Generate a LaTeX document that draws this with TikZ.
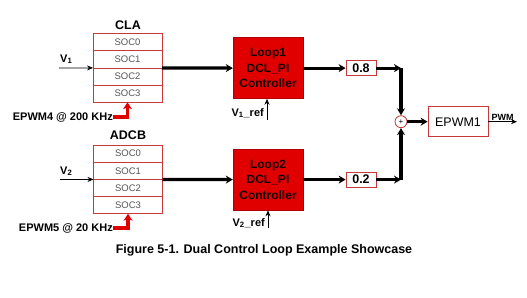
\documentclass[tikz,border=0pt]{standalone}
\usepackage{fontspec}
\setmainfont{Liberation Sans}
\usetikzlibrary{positioning, arrows.meta}
\definecolor{boxred}{HTML}{C8373A}
\definecolor{loopred}{HTML}{E00000}
\definecolor{socgray}{HTML}{555555}

\begin{document}
\begin{tikzpicture}[x=1pt, y=-1pt, >=Stealth,
    soc/.style={draw=boxred, thick, minimum width=69pt, minimum height=17.2pt, inner sep=0pt, outer sep=0pt,
        text=socgray, font=\fontsize{9.5}{10}\selectfont},
    title/.style={font=\bfseries\fontsize{12.5}{14}\selectfont},
    lbl/.style={font=\bfseries\fontsize{11}{12}\selectfont, inner sep=0pt},
    loopbox/.style={draw=red!70!black, fill=loopred, minimum width=70pt, minimum height=61pt, align=center,
        text=black!90!red, font=\bfseries\fontsize{12}{15.5}\selectfont},
    gain/.style={draw=boxred, thick, fill=white, minimum width=30pt, minimum height=15pt, inner sep=0pt,
        font=\bfseries\fontsize{12.5}{13}\selectfont},
    bus/.style={->, line width=3.2pt, >={Stealth[length=7pt, width=8pt]}},
    thin arrow/.style={->, thick, >={Stealth[length=6pt, width=5pt]}},
    trig/.style={->, draw=loopred, line width=3.2pt, >={Stealth[length=7pt, width=9pt]}}]
    \useasboundingbox (0,0) rectangle (527,297);

    % CLA trigger stack
    \node[title] (cla) at (128,25) {CLA};
    \node[soc] (cla0) at (127.5,42.1) {SOC0};
    \node[soc, below=0pt of cla0] (cla1) {SOC1};
    \node[soc, below=0pt of cla1] (cla2) {SOC2};
    \node[soc, below=0pt of cla2] (cla3) {SOC3};
    \coordinate (in1) at (59,68.1);
    \node[lbl, anchor=base west] (v1) at (60,62) {V\textsubscript{1}};
    \node[lbl, anchor=base east] (trig1) at (113,120) {EPWM4 @ 200 KHz};

    % ADCB trigger stack
    \node[title] (adcb) at (128,135) {ADCB};
    \node[soc] (adc0) at (128,153.6) {SOC0};
    \node[soc, below=0pt of adc0] (adc1) {SOC1};
    \node[soc, below=0pt of adc1] (adc2) {SOC2};
    \node[soc, below=0pt of adc2] (adc3) {SOC3};
    \coordinate (in2) at (60,179.6);
    \node[lbl, anchor=base west] (v2) at (60,174) {V\textsubscript{2}};
    \node[lbl, anchor=base east] (trig2) at (113,231) {EPWM5 @ 20 KHz};

    % controllers and gains
    \node[loopbox] (loop1) at (268,68.1) {Loop1\\DCL\_PI\\Controller};
    \node[loopbox] (loop2) at (268,179.6) {Loop2\\DCL\_PI\\Controller};
    \coordinate (ref1) at (267,119.5);
    \coordinate (ref2) at (268,227.5);
    \node[lbl, anchor=base east] (r1) at (264,116) {V\textsubscript{1}\_ref};
    \node[lbl, anchor=base east] (r2) at (265,226) {V\textsubscript{2}\_ref};
    \node[gain] (g1) at (361,68.1) {0.8};
    \node[gain] (g2) at (361,179.6) {0.2};

    % summing and output
    \node[draw=boxred, thick, fill=white, circle, minimum size=12pt, inner sep=0pt,
        font=\fontsize{8}{8}\selectfont] (sum) at (401,121.7) {+};
    \node[draw=boxred, thick, minimum width=60pt, minimum height=30pt,
        font=\fontsize{12.5}{13}\selectfont] (epwm) at (458,121.7) {EPWM1};
    \coordinate (c1) at (sum |- g1);
    \coordinate (c2) at (sum |- g2);
    \coordinate (out) at (517,121.7);

    \node[font=\bfseries\fontsize{12.5}{14}\selectfont] (caption) at (264,250.5)
        {Figure 5-1. Dual Control Loop Example Showcase};

    % connectors
    \draw[thin arrow] (in1) -- (cla1.south west);
    \draw[thin arrow] (in2) -- (adc1.south west);
    \draw[trig] (trig1.east) -| (cla3.south);
    \draw[trig] (trig2.east) -| (adc3.south);
    \draw[bus] (cla1.south east) -- (loop1.west);
    \draw[bus] (adc1.south east) -- (loop2.west);
    \draw[thin arrow] (ref1) -- (loop1.south -| ref1);
    \draw[thin arrow] (ref2) -- (loop2.south -| ref2);
    \draw[bus] (loop1.east) -- (g1.west);
    \draw[bus] (loop2.east) -- (g2.west);
    \draw[bus] (g1.east) -- (c1);
    \draw[bus] (g2.east) -- (c2);
    \draw[bus] (c1) -- (sum.north);
    \draw[bus] (c2) -- (sum.south);
    \draw[bus] (sum.east) -- (epwm.west);
    \draw[thin arrow] (epwm.east) -- node[above=1pt, inner sep=0pt, font=\bfseries\fontsize{9}{10}\selectfont] (pwm) {PWM} (out);
\end{tikzpicture}
\end{document}
